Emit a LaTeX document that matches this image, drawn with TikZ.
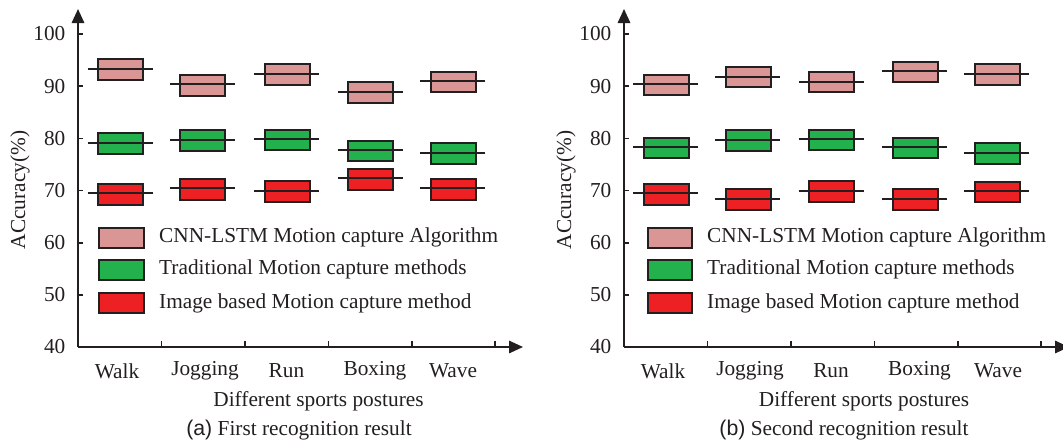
\documentclass[tikz,border=0pt]{standalone}
\usepackage{fontspec}
\setmainfont{Liberation Serif}
\setsansfont{Liberation Sans}
\usetikzlibrary{arrows.meta}
\definecolor{pinkc}{RGB}{217,150,148}
\definecolor{greenc}{RGB}{34,177,76}
\definecolor{redc}{RGB}{237,32,36}
\definecolor{ink}{RGB}{35,31,32}
\tikzset{
  axisst/.style={draw=ink,line width=1.6pt},
  arrowst/.style={-{Triangle[length=14pt,width=12.5pt]}},
  boxst/.style={draw=ink,line width=2pt},
  medst/.style={draw=ink,line width=2pt},
  lbl/.style={font=\fontsize{21.3pt}{25pt}\selectfont,inner sep=0pt,text=ink},
  captxt/.style={font=\fontsize{21.3pt}{25pt}\selectfont,inner sep=0pt,text=ink},
}
\newcommand\bxp[4]{%
  \filldraw[boxst,fill=#4] (#1-22.5,#2) rectangle (#1+22.5,#2+20.5);
  \draw[medst] (#1-33,#3) -- (#1+32,#3);}
\newcommand\axesp[1]{%
  \begin{scope}[xshift=#1]
  \draw[axisst,arrowst] (78,347) -- (78,9);
  \draw[axisst,arrowst] (78,347) -- (523,347);
  \foreach \v/\yy in {100/34,90/86.2,80/138.3,70/190.5,60/242.7,50/294.8,40/347}{
    \draw[axisst] (78,\yy) -- (83,\yy);
    \node[lbl,anchor=east] at (65.5,\yy) {\v};}
  \foreach \xx in {161.5,244.9,328.3,411.7,495.1}{
    \draw[axisst] (\xx,347) -- (\xx,341);}
  \node[lbl,rotate=90] at (20,190) {ACcuracy(\%)};
  \end{scope}}
\begin{document}
\begin{tikzpicture}[x=1pt,y=-1pt]
\useasboundingbox (0,0) rectangle (1063,442);
% ---------- left chart ----------
\axesp{0pt}
\bxp{120.5}{59}{69}{pinkc}
\bxp{202.5}{75}{84.3}{pinkc}
\bxp{287}{64.3}{74}{pinkc}
\bxp{370.5}{82}{91.7}{pinkc}
\bxp{453}{71.7}{81.3}{pinkc}
\bxp{120.5}{133}{142.7}{greenc}
\bxp{202.5}{130.3}{140}{greenc}
\bxp{287}{129.7}{139.3}{greenc}
\bxp{370.5}{140.7}{150.3}{greenc}
\bxp{453}{143.3}{153}{greenc}
\bxp{120.5}{184}{193.3}{redc}
\bxp{202.5}{179}{188.3}{redc}
\bxp{287}{181}{190.7}{redc}
\bxp{370.5}{169}{178.3}{redc}
\bxp{453}{179}{188.3}{redc}
\filldraw[boxst,fill=pinkc] (99,227.5) rectangle (144,247.5);
\filldraw[boxst,fill=greenc] (99,260) rectangle (144,280);
\filldraw[boxst,fill=redc] (99,293) rectangle (144,313);
\node (la1) [lbl,anchor=west] at (159,237) {CNN-LSTM Motion capture Algorithm};
\node (la2) [lbl,anchor=west] at (159,269.5) {Traditional Motion capture methods};
\node (la3) [lbl,anchor=west] at (159,303) {Image based Motion capture method};
\node (wa) [lbl] at (117,371) {Walk};
\node (ja) [lbl] at (205,371) {Jogging};
\node (ra) [lbl] at (286.5,371) {Run};
\node (ba) [lbl] at (375,371) {Boxing};
\node (wva) [lbl] at (453,371) {Wave};
\node (xa) [lbl] at (318.5,401) {Different sports postures};
\node (ca) [captxt] at (299,430) {\sffamily(a)\rmfamily\ First recognition result};
% ---------- right chart ----------
\axesp{546pt}
\bxp{666}{74.7}{84.3}{pinkc}
\bxp{748.3}{66.7}{76.7}{pinkc}
\bxp{831.7}{71.7}{81.7}{pinkc}
\bxp{915}{61.7}{71}{pinkc}
\bxp{997}{64.3}{74}{pinkc}
\bxp{666}{137.7}{147.3}{greenc}
\bxp{748.3}{130}{140}{greenc}
\bxp{831.7}{129.7}{139.3}{greenc}
\bxp{915}{137.7}{147.3}{greenc}
\bxp{997}{143.3}{153}{greenc}
\bxp{666}{184}{193.3}{redc}
\bxp{748.3}{189}{199}{redc}
\bxp{831.7}{181}{190.7}{redc}
\bxp{915}{189}{199}{redc}
\bxp{997}{181.7}{191}{redc}
\filldraw[boxst,fill=pinkc] (647.5,227.5) rectangle (692,247.5);
\filldraw[boxst,fill=greenc] (647.5,260) rectangle (692,280);
\filldraw[boxst,fill=redc] (647.5,293) rectangle (692,313);
\node (lb1) [lbl,anchor=west] at (707,237) {CNN-LSTM Motion capture Algorithm};
\node (lb2) [lbl,anchor=west] at (707,269.5) {Traditional Motion capture methods};
\node (lb3) [lbl,anchor=west] at (707,303) {Image based Motion capture method};
\node (wb) [lbl] at (663,371) {Walk};
\node (jb) [lbl] at (750,371) {Jogging};
\node (rb) [lbl] at (831,371) {Run};
\node (bb) [lbl] at (919.5,371) {Boxing};
\node (wvb) [lbl] at (998,371) {Wave};
\node (xb) [lbl] at (864,401) {Different sports postures};
\node (cb) [captxt] at (844,430) {\sffamily(b)\rmfamily\ Second recognition result};
\end{tikzpicture}
\end{document}
